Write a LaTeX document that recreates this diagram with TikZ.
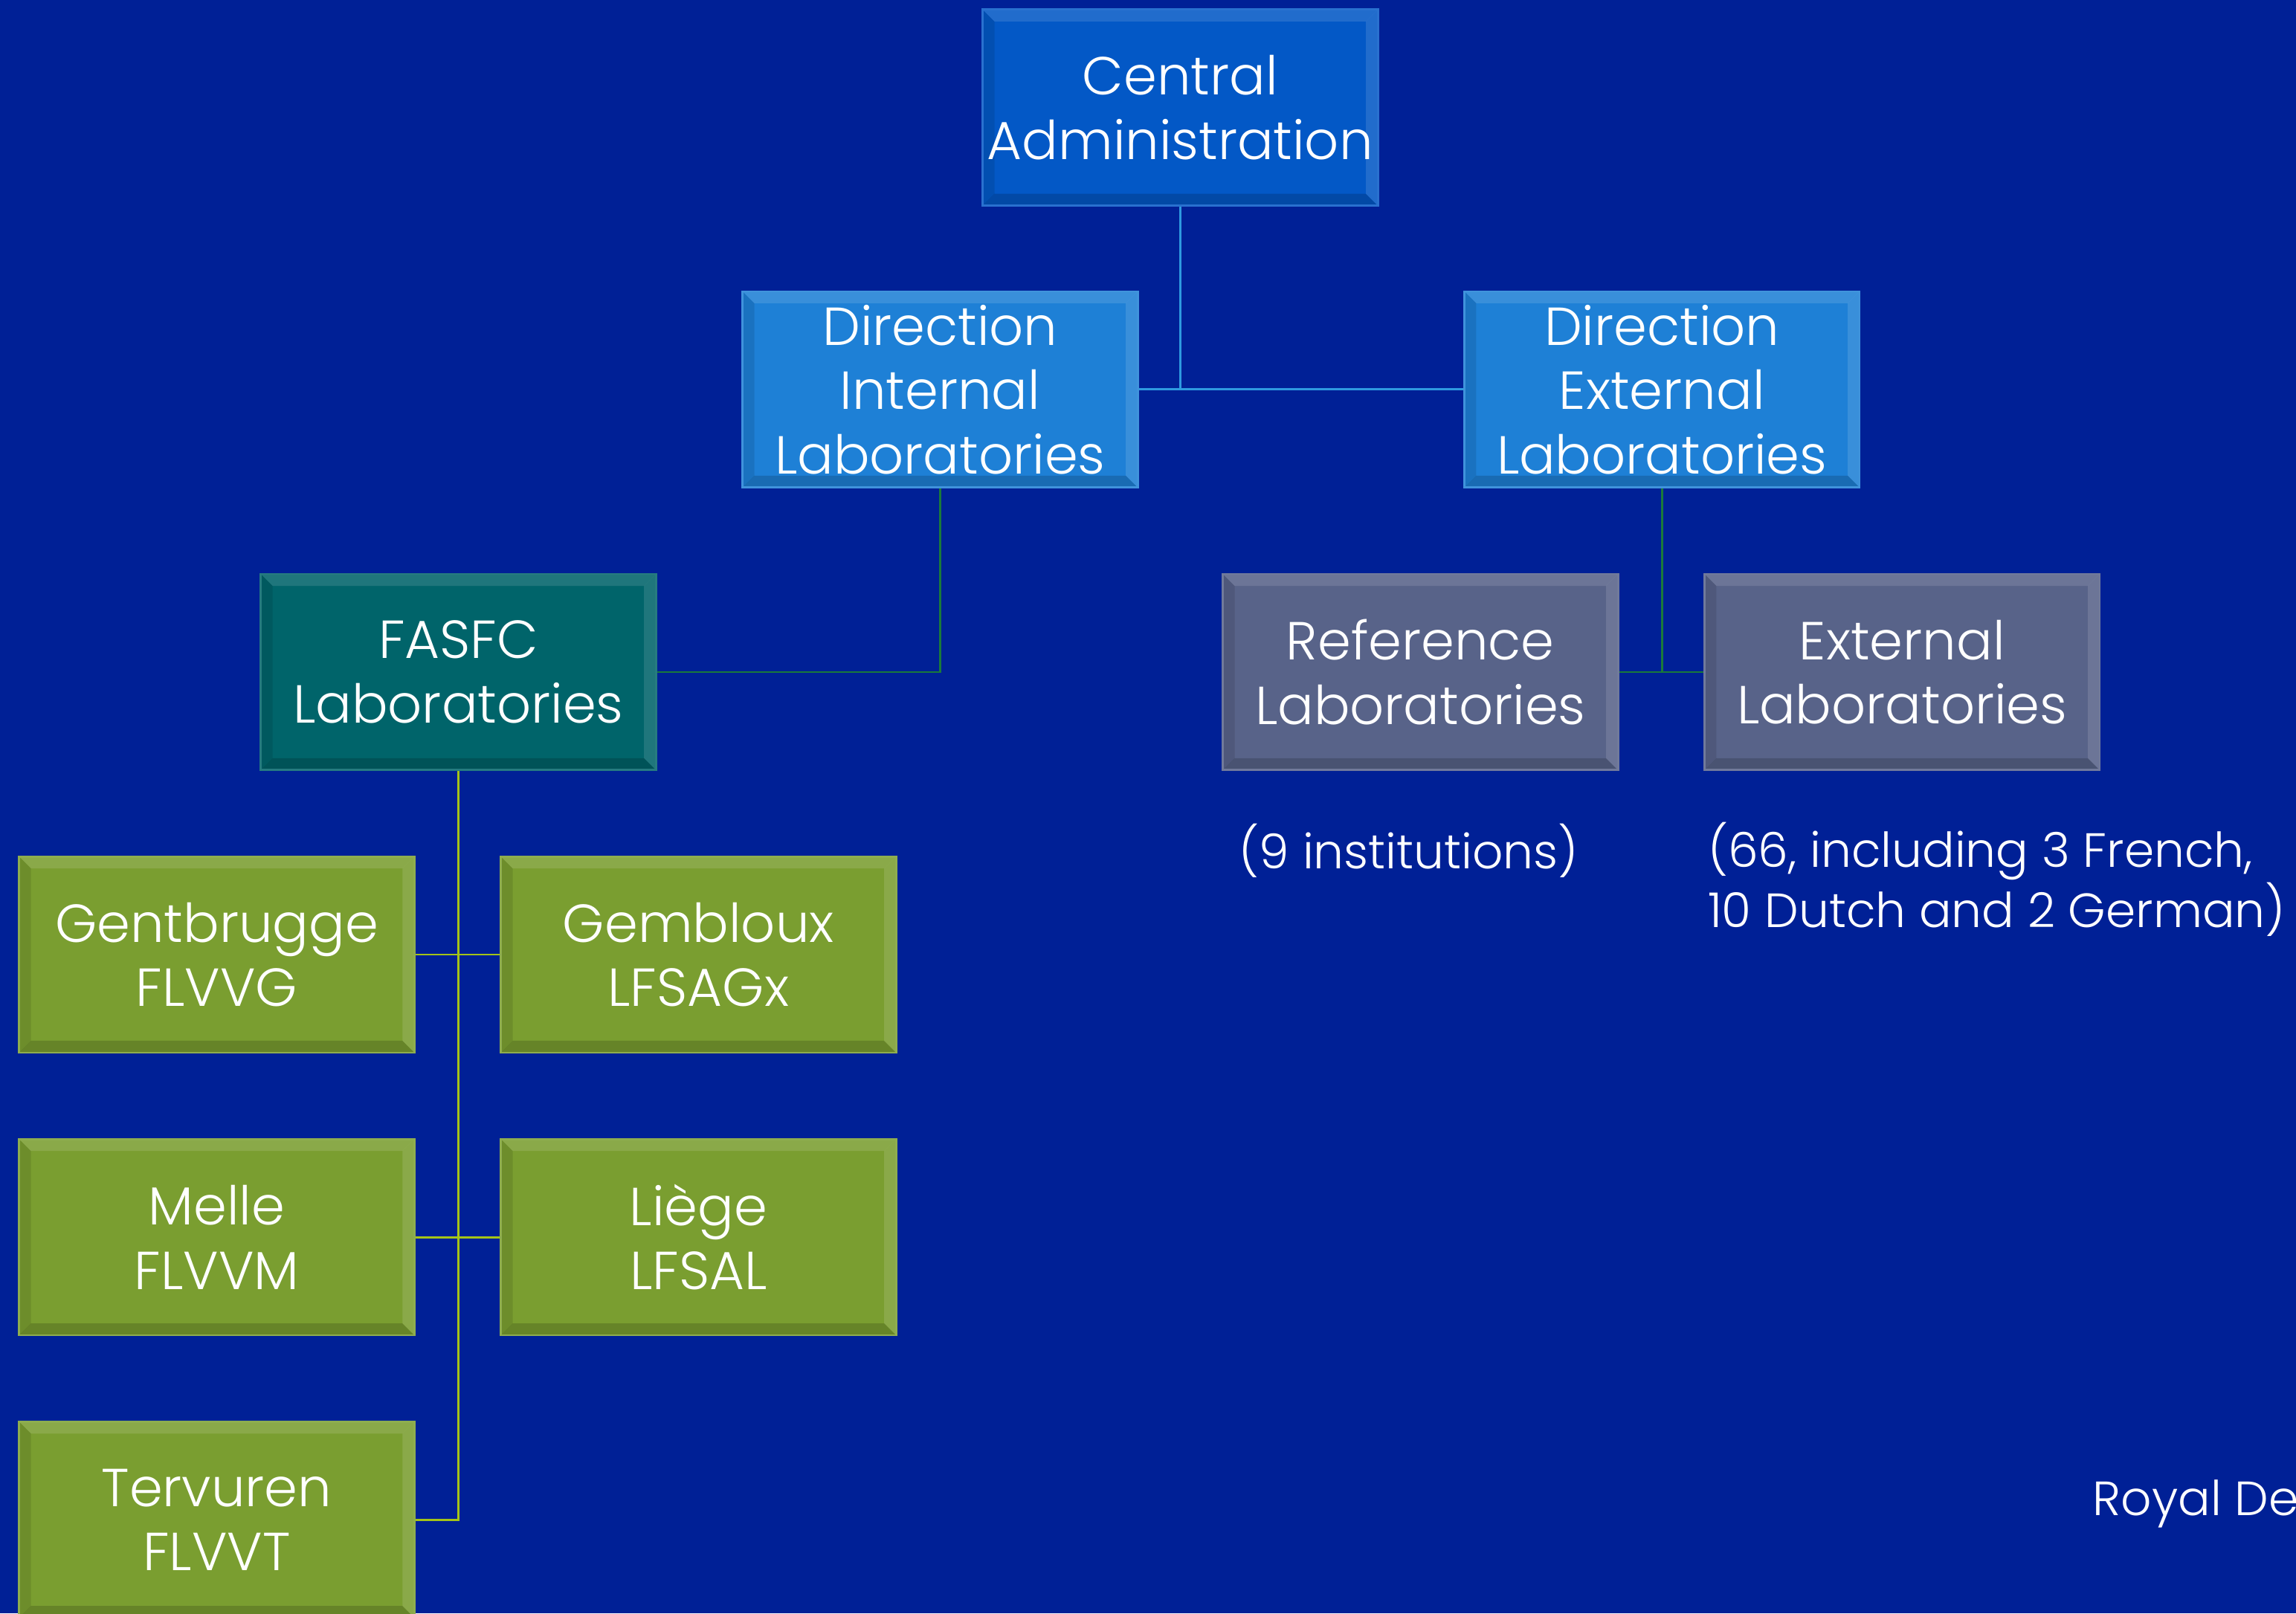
\documentclass[tikz,border=0pt]{standalone}
\usepackage{fontspec}
\setmainfont{Poppins}[UprightFont=* Light]
\usetikzlibrary{calc,positioning}

\definecolor{bgblue}{RGB}{0,32,150}
\definecolor{adminblue}{RGB}{3,88,198}
\definecolor{dirblue}{RGB}{30,128,214}
\definecolor{fasfcteal}{RGB}{0,100,106}
\definecolor{slate}{RGB}{88,99,137}
\definecolor{labgreen}{RGB}{122,158,48}
\definecolor{linkblue}{RGB}{46,154,224}
\definecolor{linkgreen}{RGB}{26,122,58}
\definecolor{linklime}{RGB}{164,196,24}

\newcommand{\boxfont}{\fontsize{20.5}{24.6}\selectfont}
\newcommand{\notefont}{\fontsize{18.4}{21.8}\selectfont}

\tikzset{
  % raised edges of the boxes
  bevel/.style={path picture={
      \path (path picture bounding box.north west) coordinate (pnw)
            (path picture bounding box.south east) coordinate (pse);
      \fill[white,opacity=.12] (pnw) -- (pnw -| pse) -- ++(-1.6mm,-1.6mm) -- ($(pnw)+(1.6mm,-1.6mm)$) -- cycle;
      \fill[black,opacity=.16] (pse) -- (pse -| pnw) -- ++(1.6mm,1.6mm) -- ($(pse)+(-1.6mm,1.6mm)$) -- cycle;
      \fill[black,opacity=.10] (pnw) -- (pnw |- pse) -- ++(1.6mm,1.6mm) -- ($(pnw)+(1.6mm,-1.6mm)$) -- cycle;
      \fill[white,opacity=.12] (pse) -- (pse |- pnw) -- ++(-1.6mm,-1.6mm) -- ($(pse)+(-1.6mm,1.6mm)$) -- cycle;
  }},
  box/.style={draw=#1!85!white, fill=#1, line width=0.8pt, text=white, align=center,
    minimum width=5.317cm, minimum height=2.639cm, inner sep=0pt, font=\boxfont, bevel},
  note/.style={text=white, font=\notefont, inner sep=0pt},
  link/.style={draw=#1, line width=0.8pt}
}

\begin{document}
\begin{tikzpicture}[x=0.019694cm,y=-0.019694cm]
  % page
  \fill[bgblue] (0,0) rectangle (1568,1102);
  \useasboundingbox (0,0) rectangle (1568,1102);

  % head and directions
  \node[box=adminblue] (central) at (806,73.5) {Central\\Administration};
  \node[box=dirblue] (dirint) at (642,266) {Direction\\Internal\\Laboratories};
  \node[box=dirblue] (dirext) at (1135,266) {Direction\\External\\Laboratories};

  % second level
  \node[box=fasfcteal] (fasfc) at (313,459) {FASFC\\Laboratories};
  \node[box=slate] (reflab) at (970,459) {Reference\\Laboratories};
  \node[box=slate] (extlab) at (1299,459) {External\\Laboratories};

  % FASFC sites
  \node[box=labgreen] (gentbrugge) at (148,652) {Gentbrugge\\FLVVG};
  \node[box=labgreen] (gembloux) at (477,652) {Gembloux\\LFSAGx};
  \node[box=labgreen] (melle) at (148,845) {Melle\\FLVVM};
  \node[box=labgreen] (liege) at (477,845) {Liège\\LFSAL};
  \node[box=labgreen] (tervuren) at (148,1038) {Tervuren\\FLVVT};

  % notes
  \node[note, anchor=west] (refnote) at (846,581) {(9 institutions)};
  \node[note, anchor=west, align=left] (extnote) at (1166,600.5) {(66, including 3 French,\\10 Dutch and 2 German)};
  \node[note, anchor=west] (decree) at (1429,1027) {Royal De};

  % connectors
  \draw[link=linkblue] (central.south) -- (central.south |- dirint.east);
  \draw[link=linkblue] (dirint.east) -- (dirext.west);
  \draw[link=linkgreen] (dirint.south) |- (fasfc.east);
  \draw[link=linkgreen] (dirext.south) -- (dirext.south |- reflab.east);
  \draw[link=linkgreen] (reflab.east) -- (extlab.west);
  \draw[link=linklime] (fasfc.south) |- (tervuren.east);
  \draw[link=linklime] (gentbrugge.east) -- (gembloux.west);
  \draw[link=linklime] (melle.east) -- (liege.west);
\end{tikzpicture}
\end{document}
